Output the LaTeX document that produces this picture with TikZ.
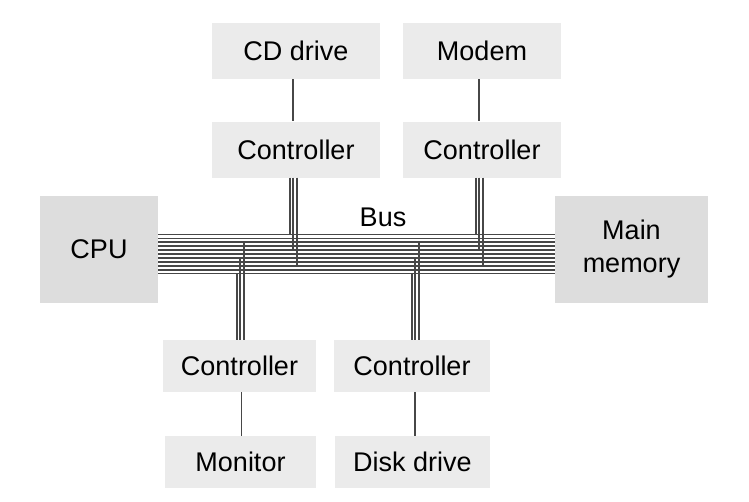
\documentclass[tikz,border=0pt]{standalone}
\usepackage{fontspec}
\setmainfont{Liberation Sans}
\begin{document}
\begin{tikzpicture}[x=1pt,y=-1pt,
  box/.style={fill=gray!16, minimum width=#1, minimum height=56pt, inner sep=0pt, font=\fontsize{27}{33}\selectfont},
  lowbox/.style={box=#1, minimum height=52pt},
  bigbox/.style={box=#1, fill=gray!27, minimum height=107pt, align=center},
  wire/.style={black!72, line width=1.8pt},
  link/.style={black!72, line width=1.7pt}]
\useasboundingbox (0,0) rectangle (749,501);
\node[box=168] (cd) at (296,51) {CD drive};
\node[box=158] (modem) at (482,51) {Modem};
\node[box=168] (cdctl) at (296,149.5) {Controller};
\node[box=158] (modemctl) at (482,149.5) {Controller};
\node[lowbox=153] (monctl) at (239.5,366) {Controller};
\node[lowbox=156] (diskctl) at (412,366) {Controller};
\node[lowbox=151] (monitor) at (240.5,462) {Monitor};
\node[lowbox=155] (disk) at (412.5,462) {Disk drive};
\node[bigbox=118] (cpu) at (99,249.5) {CPU};
\node[bigbox=153] (mem) at (631.5,249.5) {Main\\memory};
\node[font=\fontsize{27}{33}\selectfont] (bus) at (383,217) {Bus};
% bus lines
\foreach \i in {0,...,10} \coordinate (b\i) at (0,234.5+3.9*\i);
\foreach \i in {0,...,10} \draw[wire] (cpu.east |- b\i) -- (mem.west |- b\i);
% taps to the bus
\foreach \dx/\j in {-6/0,-2.7/4,0.6/8} {
  \draw[wire] ([xshift=\dx pt]cdctl.south) -- ([xshift=\dx pt]cdctl.south |- b\j);
  \draw[wire] ([xshift=\dx pt]modemctl.south) -- ([xshift=\dx pt]modemctl.south |- b\j);
}
\foreach \dx/\j in {-2.5/10,0.8/6,4.1/2} \draw[wire] ([xshift=\dx pt]monctl.north) -- ([xshift=\dx pt]monctl.north |- b\j);
\foreach \dx/\j in {0/10,3.3/6,6.6/2} \draw[wire] ([xshift=\dx pt]diskctl.north) -- ([xshift=\dx pt]diskctl.north |- b\j);
% device links
\draw[link] ([xshift=-3pt]cd.south) -- ([xshift=-3pt]cdctl.north);
\draw[link] ([xshift=-3pt]modem.south) -- ([xshift=-3pt]modemctl.north);
\draw[link] ([xshift=2pt]monctl.south) -- ([xshift=1pt]monitor.north);
\draw[link] ([xshift=3pt]diskctl.south) -- ([xshift=2.5pt]disk.north);
\end{tikzpicture}
\end{document}
